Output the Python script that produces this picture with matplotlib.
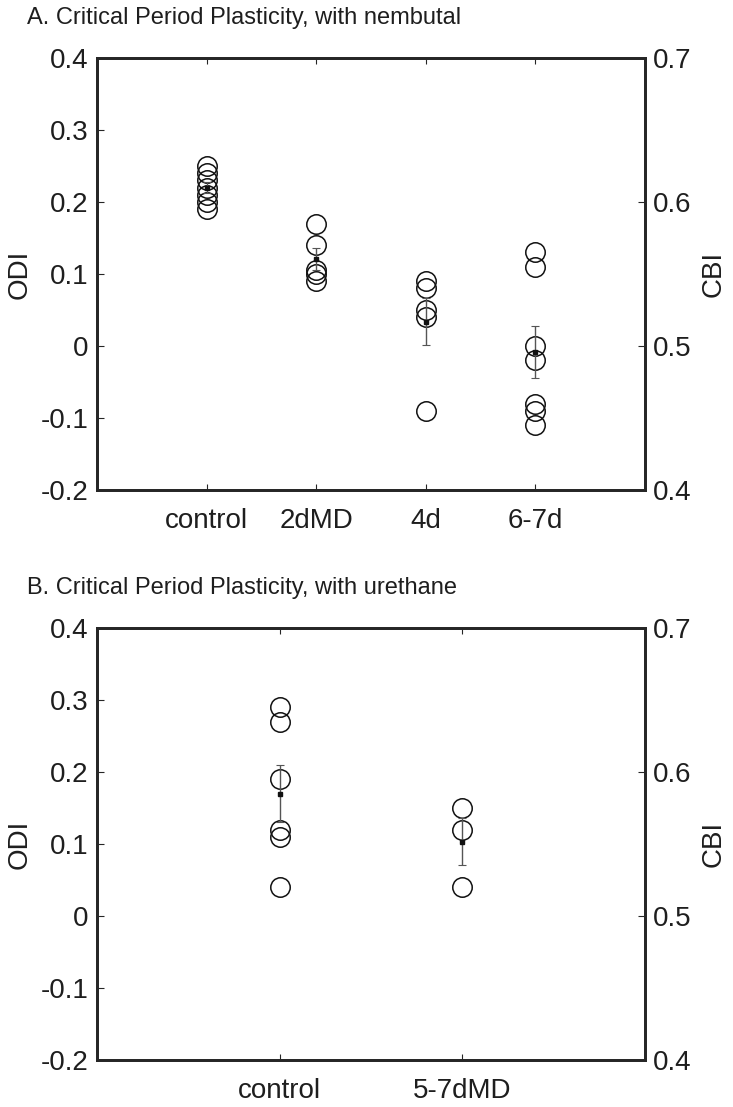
import numpy as np
import matplotlib
matplotlib.use('Agg')
import matplotlib.pyplot as plt

plt.rcParams['font.family'] = ['Liberation Sans', 'DejaVu Sans']

# panel A: nembutal
labels_a = ['control', '2dMD', '4d', '6-7d']
odi_a = [
    [0.25, 0.24, 0.23, 0.22, 0.21, 0.20, 0.19],
    [0.17, 0.14, 0.105, 0.10, 0.09],
    [0.09, 0.08, 0.05, 0.04, -0.09],
    [0.13, 0.11, 0.0, -0.02, -0.08, -0.09, -0.11],
]

# panel B: urethane
labels_b = ['control', '5-7dMD']
odi_b = [
    [0.29, 0.27, 0.19, 0.12, 0.11, 0.04],
    [0.15, 0.12, 0.04],
]

odi_ticks = [-0.2, -0.1, 0, 0.1, 0.2, 0.3, 0.4]
cbi_ticks = [0.4, 0.5, 0.6, 0.7]
spine_col = '#262626'
txt_col = '#1e1e1e'
fs = 20


def panel(ax, labels, groups):
    for i, vals in enumerate(groups):
        x = i + 1
        v = np.array(vals)
        m = v.mean()
        sem = v.std(ddof=1) / np.sqrt(len(v))
        ax.plot([x] * len(v), v, 'o', mfc='none', mec='#111111', ms=14, mew=1.1, zorder=3)
        ax.errorbar(x, m, yerr=sem, fmt='s', color='#111111', ms=2.5,
                    elinewidth=1.0, capsize=3, capthick=0.8, ecolor='#555555', zorder=4)
    ax.set_xlim(0, len(groups) + 1)
    ax.set_ylim(-0.2, 0.4)
    ax.set_yticks(odi_ticks)
    ax.set_yticklabels(['-0.2', '-0.1', '0', '0.1', '0.2', '0.3', '0.4'])
    ax.set_xticks(range(1, len(groups) + 1))
    ax.set_xticklabels(labels)
    ax.tick_params(axis='x', direction='in', length=4, width=0.8, top=True,
                   labelsize=fs, pad=13, colors=spine_col, labelcolor=txt_col)
    ax.tick_params(axis='y', direction='in', length=5, width=0.8, right=True,
                   labelsize=fs, pad=6, colors=spine_col, labelcolor=txt_col)
    ax.set_ylabel('ODI', fontsize=fs, labelpad=6, color=txt_col)
    for s in ax.spines.values():
        s.set_linewidth(2.0)
        s.set_color(spine_col)
    ax2 = ax.twinx()
    ax2.set_ylim(0.4, 0.7)
    ax2.set_yticks(cbi_ticks)
    ax2.set_yticklabels(['0.4', '0.5', '0.6', '0.7'])
    ax2.tick_params(axis='y', direction='in', length=5, width=0.8,
                    labelsize=fs, pad=6, colors=spine_col, labelcolor=txt_col)
    ax2.set_ylabel('CBI', fontsize=fs, labelpad=6, color=txt_col)
    for s in ax2.spines.values():
        s.set_linewidth(2.0)
        s.set_color(spine_col)


W, H = 733, 1107
fig = plt.figure(figsize=(W / 100, H / 100), dpi=100)
ax_a = fig.add_axes([97 / W, 1 - 490 / H, 548 / W, 432 / H])
ax_b = fig.add_axes([97 / W, 1 - 1060 / H, 548 / W, 432 / H])
panel(ax_a, labels_a, odi_a)
panel(ax_b, labels_b, odi_b)
fig.text(27 / W, 1 - 18 / H, 'A. Critical Period Plasticity, with nembutal',
         fontsize=17, va='center', ha='left', color=txt_col)
fig.text(27 / W, 1 - 588 / H, 'B. Critical Period Plasticity, with urethane',
         fontsize=17, va='center', ha='left', color=txt_col)
fig.savefig('out.png', dpi=100)
